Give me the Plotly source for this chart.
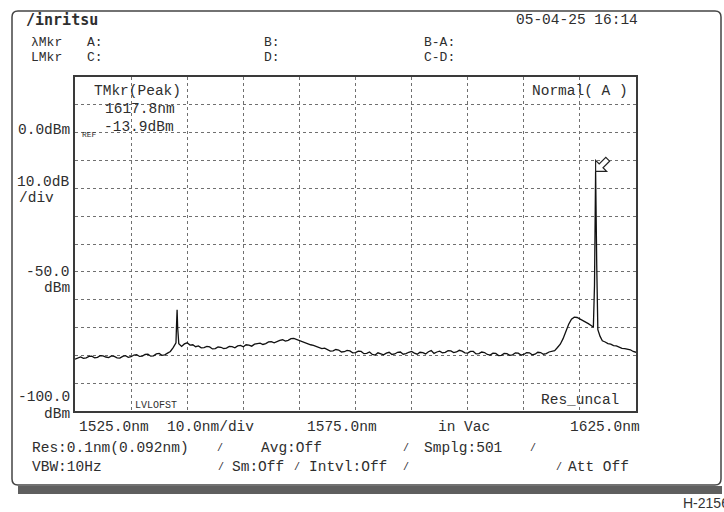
import plotly.graph_objects as go

# ---------------- data ----------------
wavelength_nm = [
    1525, 1525.5, 1526, 1526.5, 1527, 1527.5, 1528, 1528.5, 1529, 1529.5,
    1530, 1530.5, 1531, 1531.5, 1532, 1532.5, 1533, 1533.5, 1534, 1534.5,
    1535, 1535.5, 1536, 1536.5, 1537, 1537.5, 1538, 1538.5, 1539, 1539.5,
    1540, 1540.5, 1541, 1541.5, 1542, 1542.5, 1543.0, 1543.1, 1543.2, 1543.3,
    1543.5, 1544, 1544.5, 1545, 1545.5, 1546, 1546.5, 1547, 1547.5, 1548,
    1548.5, 1549, 1549.5, 1550, 1550.5, 1551, 1551.5, 1552, 1552.5, 1553,
    1553.5, 1554, 1554.5, 1555, 1555.5, 1556, 1556.5, 1557, 1557.5, 1558,
    1558.5, 1559, 1559.5, 1560, 1560.5, 1561, 1561.5, 1562, 1562.5, 1563,
    1563.5, 1564, 1564.5, 1565, 1565.5, 1566, 1566.5, 1567, 1567.5, 1568,
    1568.5, 1569, 1569.5, 1570, 1570.5, 1571, 1571.5, 1572, 1572.5, 1573,
    1573.5, 1574, 1574.5, 1575, 1575.5, 1576, 1576.5, 1577, 1577.5, 1578,
    1578.5, 1579, 1579.5, 1580, 1580.5, 1581, 1581.5, 1582, 1582.5, 1583,
    1583.5, 1584, 1584.5, 1585, 1585.5, 1586, 1586.5, 1587, 1587.5, 1588,
    1588.5, 1589, 1589.5, 1590, 1590.5, 1591, 1591.5, 1592, 1592.5, 1593,
    1593.5, 1594, 1594.5, 1595, 1595.5, 1596, 1596.5, 1597, 1597.5, 1598,
    1598.5, 1599, 1599.5, 1600, 1600.5, 1601, 1601.5, 1602, 1602.5, 1603,
    1603.5, 1604, 1604.5, 1605, 1605.5, 1606, 1606.5, 1607, 1607.5, 1608,
    1608.5, 1609, 1609.5, 1610, 1610.5, 1611, 1611.5, 1612, 1612.5, 1613,
    1613.5, 1614, 1614.5, 1615, 1615.5, 1616, 1616.5, 1617, 1617.4, 1617.6,
    1617.8, 1618.0, 1618.2, 1618.6, 1619, 1619.5, 1620, 1620.5, 1621, 1621.5,
    1622, 1622.5, 1623, 1623.5, 1624, 1624.5, 1625,
]
power_dbm = [
    -81.4, -80.9, -80.6, -81.1, -80.9, -80.4, -80.3, -80.9, -80.7, -80.1,
    -80.2, -80.6, -80.8, -80.2, -80.4, -80.9, -81.0, -80.4, -80.1, -80.7,
    -80.5, -79.9, -79.8, -80.4, -80.3, -79.7, -79.6, -80.3, -80.2, -79.5,
    -79.3, -80.0, -79.8, -79.2, -78.6, -77.2, -75.5, -69.0, -63.6, -70.0,
    -75.8, -76.8, -75.9, -75.5, -76.3, -76.2, -76.9, -76.6, -77.3, -77.2,
    -76.8, -77.0, -77.7, -77.6, -77.0, -77.1, -77.6, -77.4, -76.8, -76.9,
    -77.3, -76.6, -76.4, -76.9, -76.2, -76.3, -76.7, -76.0, -75.7, -75.6,
    -76.1, -75.8, -75.2, -75.1, -75.5, -74.9, -74.6, -74.4, -74.9, -74.6,
    -74.0, -73.9, -74.3, -74.5, -75.0, -75.3, -75.9, -76.2, -76.4, -76.8,
    -77.4, -77.6, -77.4, -77.9, -78.5, -78.4, -77.9, -78.1, -78.8, -78.7,
    -78.2, -78.4, -79.1, -79.0, -78.5, -78.6, -79.4, -79.3, -78.8, -79.7,
    -79.9, -79.1, -79.5, -79.8, -79.2, -78.9, -79.7, -79.5, -78.9, -78.8,
    -79.6, -79.4, -78.9, -78.6, -79.2, -79.6, -78.9, -79.0, -79.5, -78.7,
    -78.3, -79.3, -78.8, -78.5, -79.1, -78.9, -78.3, -78.4, -79.0, -78.8,
    -78.2, -78.5, -79.1, -79.2, -78.6, -78.6, -79.5, -79.4, -78.8, -79.0,
    -79.7, -79.9, -79.2, -79.3, -80.1, -80.0, -79.3, -79.4, -80.0, -79.8,
    -79.1, -79.2, -79.9, -79.7, -79.0, -79.1, -79.8, -79.6, -78.9, -79.0,
    -79.6, -79.4, -78.8, -78.6, -78.3, -77.2, -76.0, -74.0, -71.2, -68.8,
    -67.0, -66.3, -66.4, -66.9, -67.5, -68.0, -68.6, -69.3, -69.9, -55.0,
    -13.9, -47.5, -70.8, -73.2, -74.8, -75.2, -75.8, -76.0, -76.5, -76.6,
    -77.0, -77.5, -77.6, -77.7, -78.0, -78.6, -78.9,
]
x_range = [1525, 1625]
y_range = [-100, 20]
x_div = 10
y_div = 10
peak_wl = 1617.8
peak_dbm = -13.9

# ---------------- geometry helpers ----------------
W, H = 724, 512
L, R, T, B = 75, 636, 77, 411
MONO = "Liberation Mono"
FS = 14.5
TXT = "#2e2e2e"


def px(x):
    return (x - L) / (R - L)


def py(y):
    return (B - y) / (B - T)


annotations = []


def txt(s, x, y, xa="left", size=FS, family=MONO, color=TXT):
    annotations.append(dict(
        text=s, x=px(x), y=py(y), xref="paper", yref="paper",
        xanchor=xa, yanchor="middle", showarrow=False,
        font=dict(family=family, size=size, color=color),
    ))


fig = go.Figure()
fig.add_trace(go.Scatter(
    x=wavelength_nm, y=power_dbm, mode="lines",
    line=dict(color="#111111", width=1.3), hoverinfo="skip",
))

# header
txt("<b>/inritsu</b>", 24, 20, size=15, family="DejaVu Sans Mono")
txt("05-04-25 16:14", 640, 20, xa="right")
HS = 13
txt("λMkr", 29, 42.5, size=HS)
txt("A:", 85, 42.5, size=HS)
txt("B:", 262, 42.5, size=HS)
txt("B-A:", 422, 42.5, size=HS)
txt("LMkr", 29, 57.5, size=HS)
txt("C:", 85, 57.5, size=HS)
txt("D:", 262, 57.5, size=HS)
txt("C-D:", 422, 57.5, size=HS)

# left scale labels
txt("0.0dBm", 72, 130, xa="right")
txt("10.0dB", 72, 182, xa="right")
txt("/div", 17, 198)
txt("-50.0", 72, 272, xa="right")
txt("dBm", 72, 288, xa="right")
txt("-100.0", 72, 397, xa="right")
txt("dBm", 72, 414, xa="right")
txt("REF", 80, 134, size=8)

# in-plot labels
txt("TMkr(Peak)", 137, 91, xa="center")
txt("1617.8nm", 103, 109)
txt("-13.9dBm", 102, 127)
txt("Normal( A )", 630, 91, xa="right")
txt("Res_uncal", 621, 400, xa="right")
txt("LVLOFST", 133, 405, size=10)

# bottom axis row
txt("1525.0nm", 77, 427)
txt("10.0nm/div", 165, 427)
txt("1575.0nm", 305, 427)
txt("in Vac", 436, 427)
txt("1625.0nm", 642, 427, xa="right")

# condition rows
txt("Res:0.1nm(0.092nm)", 30, 448)
txt("/", 215, 448, size=10)
txt("Avg:Off", 259, 448)
txt("/", 401, 448, size=10)
txt("Smplg:501", 422, 448)
txt("/", 528, 448, size=10)
txt("VBW:10Hz", 30, 467)
txt("/", 216, 467, size=10)
txt("Sm:Off", 230, 467)
txt("/", 292, 467, size=10)
txt("Intvl:Off", 307, 467)
txt("/", 401, 467, size=10)
txt("/", 554, 467, size=10)
txt("Att Off", 566, 467)

# figure id (cut by the right edge, as in the source)
txt("H-2156", 681, 503, size=14, family="Liberation Sans", color="#333333")

# ---------------- shapes ----------------
shapes = []
fx0, fy0, fx1, fy1, r = 12, 11, 721, 485, 6
path = (
    f"M {px(fx0 + r)},{py(fy0)} L {px(fx1 - r)},{py(fy0)} "
    f"Q {px(fx1)},{py(fy0)} {px(fx1)},{py(fy0 + r)} "
    f"L {px(fx1)},{py(fy1 - r)} Q {px(fx1)},{py(fy1)} {px(fx1 - r)},{py(fy1)} "
    f"L {px(fx0 + r)},{py(fy1)} Q {px(fx0)},{py(fy1)} {px(fx0)},{py(fy1 - r)} "
    f"L {px(fx0)},{py(fy0 + r)} Q {px(fx0)},{py(fy0)} {px(fx0 + r)},{py(fy0)} Z"
)
shapes.append(dict(type="path", path=path, xref="paper", yref="paper",
                   line=dict(color="#444444", width=1.5), layer="below"))
shapes.append(dict(type="rect", xref="paper", yref="paper",
                   x0=px(18), x1=px(722), y0=py(486), y1=py(494),
                   fillcolor="#5f5f5f", line=dict(width=0), layer="below"))

# peak marker arrow (hollow), anchored at the peak in pixel units
arrow = "M 0,0 L 0,11 L 3.6,7.4 L 10.2,14 L 14,10.2 L 7.4,3.6 L 11,0 Z"
shapes.append(dict(type="path", path=arrow,
                   xref="x", yref="y", xsizemode="pixel", ysizemode="pixel",
                   xanchor=peak_wl, yanchor=peak_dbm,
                   line=dict(color="#222222", width=1.2), fillcolor="white"))

fig.update_layout(
    width=W, height=H,
    margin=dict(l=L, r=W - R, t=T, b=H - B),
    paper_bgcolor="white", plot_bgcolor="white",
    showlegend=False,
    annotations=annotations, shapes=shapes,
    xaxis=dict(range=x_range, tick0=x_range[0], dtick=x_div, showticklabels=False,
               ticks="", showgrid=True, gridcolor="#707070", griddash="dot", gridwidth=1,
               showline=True, mirror=True, linecolor="#3a3a3a", linewidth=1.5,
               zeroline=False, fixedrange=True),
    yaxis=dict(range=y_range, tick0=y_range[0], dtick=y_div, showticklabels=False,
               ticks="", showgrid=True, gridcolor="#707070", griddash="dot", gridwidth=1,
               showline=True, mirror=True, linecolor="#3a3a3a", linewidth=1.5,
               zeroline=False, fixedrange=True),
)

fig.write_html("out.html")
